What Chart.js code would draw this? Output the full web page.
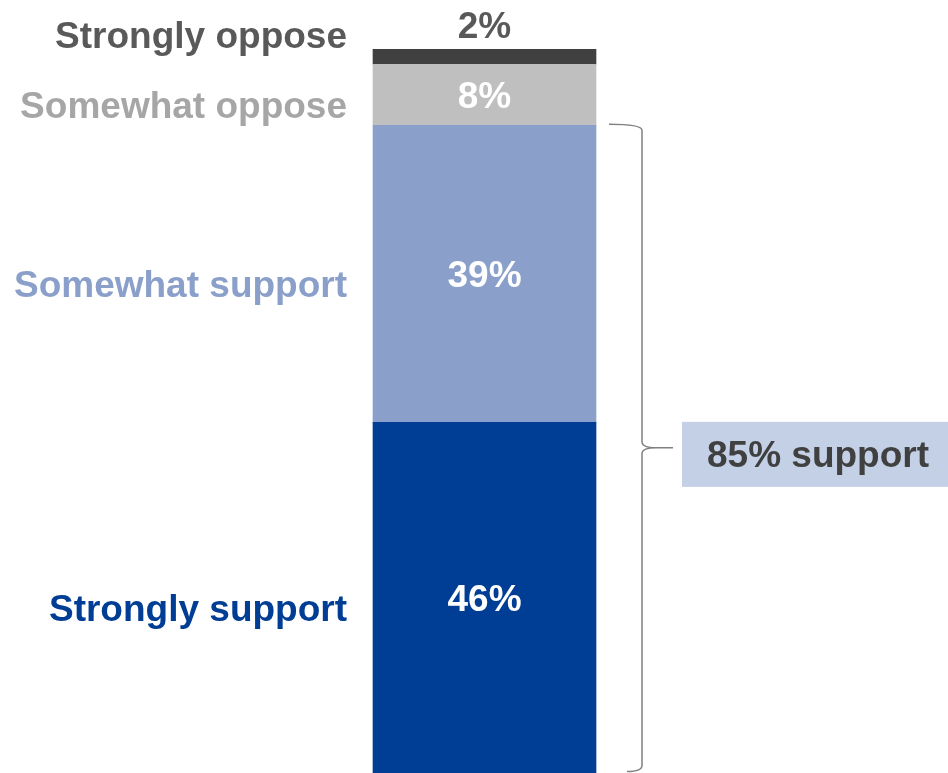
<!DOCTYPE html>
<html>
<head>
<meta charset="utf-8">
<script src="https://cdn.jsdelivr.net/npm/chart.js@4"></script>
<style>
  html, body { margin: 0; padding: 0; background: #ffffff; }
  #wrap { position: relative; width: 948px; height: 773px; }
</style>
</head>
<body>
<div id="wrap"><canvas id="c"></canvas></div>
<script>
// Survey responses, stacked bottom to top
const categories = ['Strongly support', 'Somewhat support', 'Somewhat oppose', 'Strongly oppose'];
const shares = [46, 39, 8, 2];
const valueLabels = ['46%', '39%', '8%', '2%'];
const barColors = ['#003d94', '#8aa0ca', '#bfbfbf', '#404040'];
const nameColors = ['#003d94', '#8aa0ca', '#a6a6a6', '#595959'];
const valueColors = ['#ffffff', '#ffffff', '#ffffff', '#595959'];
const supportShare = shares[0] + shares[1];
const supportLabel = supportShare + '% support';

const FONT = 'bold 37px "Liberation Sans", Arial, sans-serif';

// Draws the category names, values, and the support brace with its callout
const annotate = {
  id: 'annotate',
  afterDatasetsDraw(chart) {
    const ctx = chart.ctx;
    const y = chart.scales.y;
    ctx.save();
    ctx.font = FONT;
    ctx.textBaseline = 'alphabetic';
    const capHalf = 13; // half cap-height of the label font

    let barLeft = 0, barRight = 0, barCenter = 0;
    categories.forEach((name, i) => {
      const bar = chart.getDatasetMeta(i).data[0];
      barLeft = bar.x - bar.width / 2;
      barRight = bar.x + bar.width / 2;
      barCenter = bar.x;
      const top = bar.y, base = bar.base;
      let vy;
      if (i === categories.length - 1) {
        vy = top - 24;           // small top segment: value sits above the bar
      } else {
        vy = (top + base) / 2;
      }
      ctx.fillStyle = valueColors[i];
      ctx.textAlign = 'center';
      ctx.fillText(valueLabels[i], barCenter, vy + capHalf);

      ctx.fillStyle = nameColors[i];
      ctx.textAlign = 'right';
      ctx.fillText(name, barLeft - 26, vy + 10 + capHalf);
    });

    // Brace spanning the two support segments
    const yTop = y.getPixelForValue(supportShare) - 1;
    const yBot = y.getPixelForValue(0) - 1.5;
    const mid = (yTop + yBot) / 2;
    const x0 = barRight + 13, x1 = barRight + 46, tip = barRight + 77;
    ctx.strokeStyle = '#808080';
    ctx.lineWidth = 1.5;
    ctx.beginPath();
    ctx.moveTo(x0, yTop);
    ctx.quadraticCurveTo(x1, yTop, x1, yTop + 6);
    ctx.lineTo(x1, mid - 6);
    ctx.quadraticCurveTo(x1, mid, x1 + 14, mid);
    ctx.lineTo(tip, mid);
    ctx.moveTo(x1 + 14, mid);
    ctx.quadraticCurveTo(x1, mid, x1, mid + 6);
    ctx.lineTo(x1, yBot - 6);
    ctx.quadraticCurveTo(x1, yBot, x1 - 15, yBot);
    ctx.stroke();

    // Callout box
    const boxX = tip + 9, boxY = mid - 26, boxW = chart.width - boxX, boxH = 65;
    ctx.fillStyle = '#c4d0e5';
    ctx.fillRect(boxX, boxY, boxW, boxH);
    ctx.fillStyle = '#404040';
    ctx.textAlign = 'center';
    ctx.fillText(supportLabel, boxX + boxW / 2 + 3, boxY + boxH / 2 + capHalf);
    ctx.restore();
  }
};

new Chart(document.getElementById('c'), {
  type: 'bar',
  data: {
    labels: [''],
    datasets: categories.map((name, i) => ({
      label: name,
      data: [shares[i]],
      backgroundColor: barColors[i],
      borderWidth: 0,
      barThickness: 223
    }))
  },
  options: {
    responsive: true,
    maintainAspectRatio: false,
    animation: false,
    layout: { padding: { left: 21, right: 0, top: 49, bottom: 0 } },
    plugins: { legend: { display: false }, tooltip: { enabled: false } },
    scales: {
      x: { stacked: true, display: false },
      y: { stacked: true, display: false, min: 0, max: 95 }
    }
  },
  plugins: [annotate]
});
</script>
</body>
</html>
